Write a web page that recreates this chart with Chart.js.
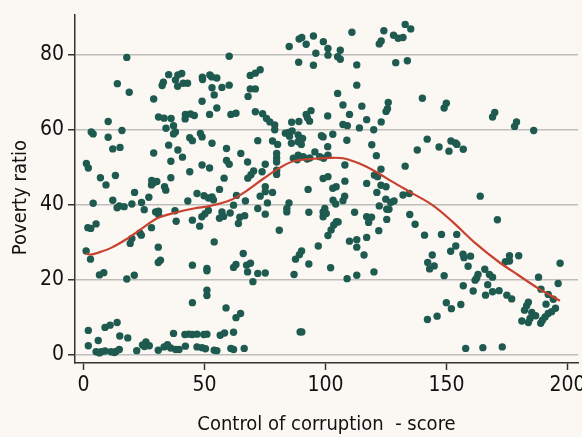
<!DOCTYPE html>
<html>
<head>
<meta charset="utf-8">
<script src="https://cdn.jsdelivr.net/npm/chart.js@4.4.1/dist/chart.umd.min.js"></script>
<style>
  html, body { margin: 0; padding: 0; background: #fbf8f3; }
  canvas { display: block; }
</style>
</head>
<body>
<canvas id="chart" width="582" height="437"></canvas>
<script>
// Scatter: control of corruption score (x) vs poverty ratio (y)
const corruptionScore = [
  17.9, 60.2, 14.0, 18.9, 35.2, 40.6, 39.0, 38.0, 33.0, 32.5, 38.9, 41.2, 43.0, 49.1, 49.2, 52.2, 53.0, 55.1, 53.1, 57.2,
  60.2, 54.0, 49.0, 55.1, 29.0, 52.1, 60.9, 63.0, 31.0, 33.3, 36.2, 42.1, 44.2, 45.8, 42.0, 10.2, 15.9, 3.2, 4.0, 10.2,
  34.1, 37.2, 38.0, 37.2, 43.9, 45.0, 48.3, 49.0, 53.1, 12.1, 15.1, 35.2, 39.0, 29.0, 40.9, 36.1, 59.1, 65.0, 59.1, 60.2,
  49.0, 52.1, 43.9, 1.2, 2.0, 7.0, 9.3, 13.2, 28.2, 29.0, 30.3, 28.1, 33.5, 36.1, 58.1, 56.2,
  110.9, 124.1, 132.9, 135.2, 128.1, 130.0, 132.0, 123.0, 122.2, 89.1, 90.2, 85.0, 95.0, 92.0, 99.1, 101.0, 106.1, 96.0, 101.0, 105.0,
  106.1, 88.9, 95.0, 112.9, 129.0, 133.8, 112.9, 105.0, 68.9, 71.0, 73.0, 68.9, 71.0, 68.0, 107.2, 115.0, 109.9, 125.9, 125.6, 125.0,
  71.0, 74.0, 75.6, 77.0, 79.0, 79.0, 86.0, 89.0, 92.0, 94.0, 92.5, 93.4, 100.9, 107.2, 109.0, 114.0, 117.0, 123.0, 119.9, 83.4,
  84.8, 86.2, 85.1, 88.7, 89.4, 90.5, 88.7, 90.0, 98.3, 99.0, 103.0, 108.8, 72.0, 78.1, 80.2, 85.9, 119.1, 100.9, 79.8, 79.8,
  79.8, 86.7, 88.7, 90.8, 93.5, 95.6, 97.6, 101.0, 88.3, 92.4, 99.2, 121.0, 67.8, 75.1, 79.8, 79.8, 108.0, 122.9, 132.9, 70.3,
  69.2, 67.9, 73.8, 99.0, 101.0, 108.0, 120.2, 121.5, 122.9, 125.0, 117.0, 92.8, 103.0, 104.4, 75.1,
  140.0, 149.9, 149.0, 169.9, 169.0, 178.9, 178.1, 186.0, 142.0, 137.9, 146.9, 151.8, 153.7, 154.3, 151.0, 156.9,
  21.1, 4.0, 12.1, 14.8, 13.9, 16.8, 20.0, 24.0, 27.0, 25.1, 29.8, 31.0, 31.0, 34.0, 28.1, 23.3, 23.9, 20.0, 19.3, 1.8,
  3.0, 5.2, 1.1, 2.9, 6.6, 8.4, 17.9, 21.0, 30.9, 31.8, 30.9, 37.8, 38.3, 43.1, 46.9, 49.8, 51.6, 45.0, 48.0, 48.9,
  50.2, 51.6, 53.1, 53.7, 57.2, 56.2, 57.9, 60.6, 62.0, 63.2, 64.0, 64.6, 66.6, 54.0, 45.0, 51.0, 51.0, 66.0, 63.0, 62.0,
  67.4, 51.0, 51.0, 45.0, 58.9, 63.0, 64.9, 2.0, 8.9, 11.0, 13.9, 15.0, 18.3, 6.1, 2.0, 5.2, 7.3, 8.9, 6.6, 11.4,
  13.4, 14.8, 12.8, 22.0, 24.4, 25.8, 25.2, 27.2, 30.9, 33.3, 34.7, 36.0, 38.1, 39.5, 37.2, 42.1, 41.9, 43.5, 44.9, 46.9,
  49.7, 51.0, 46.9, 49.0, 50.4, 54.0, 55.1, 56.5, 58.3, 62.0, 60.9, 62.0, 66.4,
  75.1, 73.0, 78.1, 66.9, 72.0, 75.1, 76.0, 84.9, 84.0, 84.0, 93.1, 103.1, 104.2, 107.2, 107.9, 99.7, 99.0, 99.0, 100.3, 112.0,
  103.4, 104.5, 105.2, 102.3, 101.0, 80.9, 97.0, 109.9, 112.9, 112.9, 117.0, 119.0, 117.8, 117.0, 122.0, 115.9, 120.0, 112.9, 108.9, 102.1,
  93.1, 90.1, 89.2, 87.6, 87.0, 69.0, 67.8, 72.0, 75.1, 70.0, 121.2, 124.9, 126.9, 128.3, 122.2, 125.3, 126.2, 125.3, 132.0, 134.8,
  89.5, 90.2,
  134.6, 163.9, 137.0, 140.9, 147.9, 154.2, 171.0, 153.8, 151.7, 157.2, 156.8, 159.9, 158.9, 144.1, 142.2, 144.9, 143.0, 149.0, 156.9, 163.0,
  162.4, 161.8, 165.8, 167.7, 169.0, 167.0, 161.0, 166.1, 169.0, 171.7, 174.9, 176.9, 174.3, 176.0, 176.0, 179.8, 188.0, 196.9, 196.1, 189.0,
  192.0, 194.1, 191.1, 183.8, 183.1, 182.2, 181.1, 184.5, 185.2, 186.8, 183.8, 188.9, 189.6, 190.7, 192.0, 193.4, 195.0, 149.9, 152.0, 155.9,
  142.1, 146.1, 157.9, 165.0, 173.0
];
const povertyRatio = [
  79.2, 79.5, 72.2, 69.9, 74.6, 74.9, 74.5, 73.2, 72.6, 71.7, 71.5, 72.3, 72.3, 73.9, 73.3, 74.5, 74.0, 73.7, 71.1, 71.2,
  71.8, 69.2, 67.5, 65.7, 68.1, 64.0, 64.0, 64.3, 63.3, 63.0, 62.9, 64.0, 64.1, 63.7, 62.8, 62.1, 59.7, 59.3, 58.8, 57.9,
  60.3, 61.0, 59.3, 58.8, 57.8, 57.0, 58.9, 58.0, 56.3, 54.8, 55.2, 55.8, 54.5, 53.7, 52.6, 51.5, 54.9, 53.6, 51.7, 50.7,
  50.5, 49.7, 48.7, 50.9, 49.7, 47.1, 45.2, 47.7, 46.4, 45.8, 46.1, 45.2, 44.7, 47.1, 47.0, 44.0,
  85.9, 86.3, 88.0, 86.8, 85.1, 84.3, 84.5, 83.6, 82.8, 84.1, 84.5, 82.1, 84.9, 82.7, 83.4, 81.6, 81.1, 80.3, 79.8, 79.4,
  78.7, 77.9, 77.1, 77.2, 77.8, 78.3, 71.8, 69.6, 74.4, 75.0, 75.9, 70.8, 70.8, 68.8, 66.5, 66.2, 64.0, 67.2, 65.5, 64.8,
  64.7, 64.2, 62.9, 62.0, 61.2, 59.9, 61.9, 62.1, 64.0, 65.0, 63.1, 62.2, 63.6, 61.3, 61.0, 60.4, 62.6, 62.0, 59.9, 59.0,
  59.2, 59.6, 58.2, 58.5, 57.2, 57.6, 56.7, 56.0, 58.3, 58.0, 58.7, 57.1, 57.0, 56.9, 56.0, 56.3, 55.9, 55.4, 53.6, 52.4,
  51.3, 52.3, 53.1, 52.7, 52.4, 54.0, 52.7, 53.1, 51.9, 52.1, 52.3, 53.0, 51.3, 50.7, 49.1, 48.0, 50.5, 49.4, 50.2, 48.9,
  47.9, 47.0, 48.7, 46.9, 47.4, 46.2, 47.8, 47.4, 45.1, 44.7, 45.6, 44.0, 44.3, 44.7, 44.7,
  68.3, 67.0, 65.7, 64.5, 63.3, 62.0, 60.8, 59.7, 57.4, 54.5, 55.3, 56.9, 56.4, 56.0, 54.2, 54.7,
  43.2, 40.3, 41.1, 39.6, 39.1, 39.4, 40.1, 40.5, 41.9, 38.6, 38.0, 38.2, 37.3, 43.8, 33.8, 32.4, 31.8, 30.9, 29.6, 33.8,
  33.6, 34.8, 27.6, 25.4, 21.2, 21.8, 20.1, 21.1, 28.6, 25.1, 24.5, 38.3, 35.5, 40.9, 42.9, 42.3, 41.7, 35.8, 34.2, 36.7,
  37.5, 38.4, 42.0, 41.2, 38.0, 36.3, 36.8, 37.7, 39.8, 42.4, 34.9, 36.6, 37.0, 30.0, 23.8, 22.9, 22.3, 26.9, 24.0, 23.2,
  23.8, 17.1, 15.7, 13.8, 12.4, 9.8, 10.9, 6.4, 7.2, 7.8, 8.5, 4.9, 4.4, 3.7, 2.3, 0.7, 0.7, 0.9, 0.4, 0.7,
  0.8, 1.3, 0.5, 1.0, 2.5, 3.3, 2.1, 2.3, 1.1, 2.0, 2.6, 1.7, 1.3, 1.3, 5.6, 2.2, 5.3, 5.4, 5.3, 5.4,
  5.3, 5.4, 2.0, 1.8, 1.5, 1.1, 1.0, 5.1, 5.7, 5.9, 1.6, 1.3, 1.6,
  43.4, 42.2, 43.2, 40.9, 38.9, 37.4, 40.4, 40.4, 38.9, 38.0, 37.9, 41.1, 40.1, 41.0, 42.2, 38.9, 38.0, 36.7, 37.6, 37.9,
  34.5, 35.4, 35.3, 33.2, 31.7, 33.1, 28.9, 30.2, 30.6, 28.6, 36.7, 36.6, 35.2, 31.2, 33.0, 26.5, 22.0, 21.1, 20.2, 23.1,
  24.1, 27.6, 26.6, 25.4, 21.3, 24.3, 22.0, 21.6, 21.7, 19.4, 43.2, 41.4, 40.5, 40.9, 39.6, 38.7, 38.7, 36.0, 42.5, 37.3,
  6.0, 6.0,
  42.9, 42.2, 34.7, 31.8, 32.0, 32.0, 35.9, 28.9, 27.5, 25.8, 26.7, 26.2, 23.5, 26.5, 24.5, 23.6, 22.8, 21.0, 18.3, 21.3,
  20.3, 19.8, 22.7, 21.3, 20.6, 18.6, 16.9, 15.8, 16.7, 17.0, 15.8, 14.8, 24.7, 24.9, 26.3, 26.3, 20.6, 24.3, 18.9, 17.4,
  16.0, 14.7, 13.4, 13.9, 13.0, 11.8, 8.9, 9.6, 11.2, 10.3, 8.5, 8.3, 9.1, 10.0, 10.9, 11.4, 12.3, 13.8, 12.2, 13.3,
  9.3, 10.2, 1.6, 1.8, 2.0
];

// Smoothed fit (red curve)
const fitScore = [1, 3, 6, 11.4, 18.2, 25.1, 30.5, 38.7, 45.6, 52.4, 60.6, 67.4, 74.4, 81.2, 86.7, 93.5, 101.7, 107.2, 114, 120.8, 127.7, 134.6, 144.2, 152.4, 162, 171.5, 179.7, 187.9, 196.8];
const fitRatio = [26.9, 26.6, 27.1, 28.4, 30.9, 34.0, 36.3, 37.9, 38.9, 39.6, 41.1, 43.6, 46.9, 49.8, 51.5, 52.1, 52.4, 52.3, 50.9, 48.7, 46.0, 43.4, 39.8, 35.4, 29.6, 24.7, 21.1, 17.6, 14.3];

const xTicks = [0, 50, 100, 150, 200];
const yTicks = [0, 20, 40, 60, 80];

const FONT = "'Liberation Sans Narrow', 'DejaVu Sans Condensed', 'Noto Sans', sans-serif";
const INK = '#111111';

const scatterPts = corruptionScore.map((x, i) => ({ x: x, y: povertyRatio[i] }));
const fitPts = fitScore.map((x, i) => ({ x: x, y: fitRatio[i] }));

new Chart(document.getElementById('chart'), {
    type: 'scatter',
    data: {
        datasets: [
            {
                type: 'line',
                data: fitPts,
                borderColor: '#c9412e',
                borderWidth: 2.2,
                pointRadius: 0,
                tension: 0.35,
                fill: false,
                order: 0
            },
            {
                data: scatterPts,
                backgroundColor: '#1e5a4f',
                borderWidth: 0,
                pointRadius: 3.7,
                order: 1
            }
        ]
    },
    options: {
        responsive: false,
        animation: false,
        layout: { padding: { top: 15, right: 0, bottom: 0, left: 0 } },
        plugins: { legend: { display: false }, tooltip: { enabled: false } },
        scales: {
            x: {
                type: 'linear',
                min: -3.5,
                max: 204.3,
                afterBuildTicks: s => { s.ticks = xTicks.map(v => ({ value: v })); },
                afterFit: s => { s.height = 74; s.paddingLeft = 0; s.paddingRight = 0; },
                grid: { drawOnChartArea: false, drawTicks: true, tickLength: 7, tickColor: '#333', tickWidth: 1.5 },
                border: { color: '#333', width: 1.5 },
                ticks: { font: { family: FONT, size: 21 }, color: INK, padding: 3, maxRotation: 0 },
                title: { display: true, text: 'Control of corruption  - score', font: { family: FONT, size: 20 }, color: INK, padding: { top: 0, bottom: 0 } }
            },
            y: {
                min: -2.3,
                max: 90.5,
                afterBuildTicks: s => { s.ticks = yTicks.map(v => ({ value: v })); },
                afterFit: s => { s.width = 75; s.paddingTop = 0; s.paddingBottom = 0; },
                grid: { color: '#c0bebb', lineWidth: 1.5, drawTicks: true, tickLength: 7, tickColor: '#333', tickWidth: 1.5 },
                border: { color: '#333', width: 1.5 },
                ticks: { font: { family: FONT, size: 21 }, color: INK, padding: 4 },
                title: { display: true, text: 'Poverty ratio   ', font: { family: FONT, size: 20 }, color: INK, padding: { top: 9, bottom: 0 } }
            }
        }
    }
});
</script>
</body>
</html>
